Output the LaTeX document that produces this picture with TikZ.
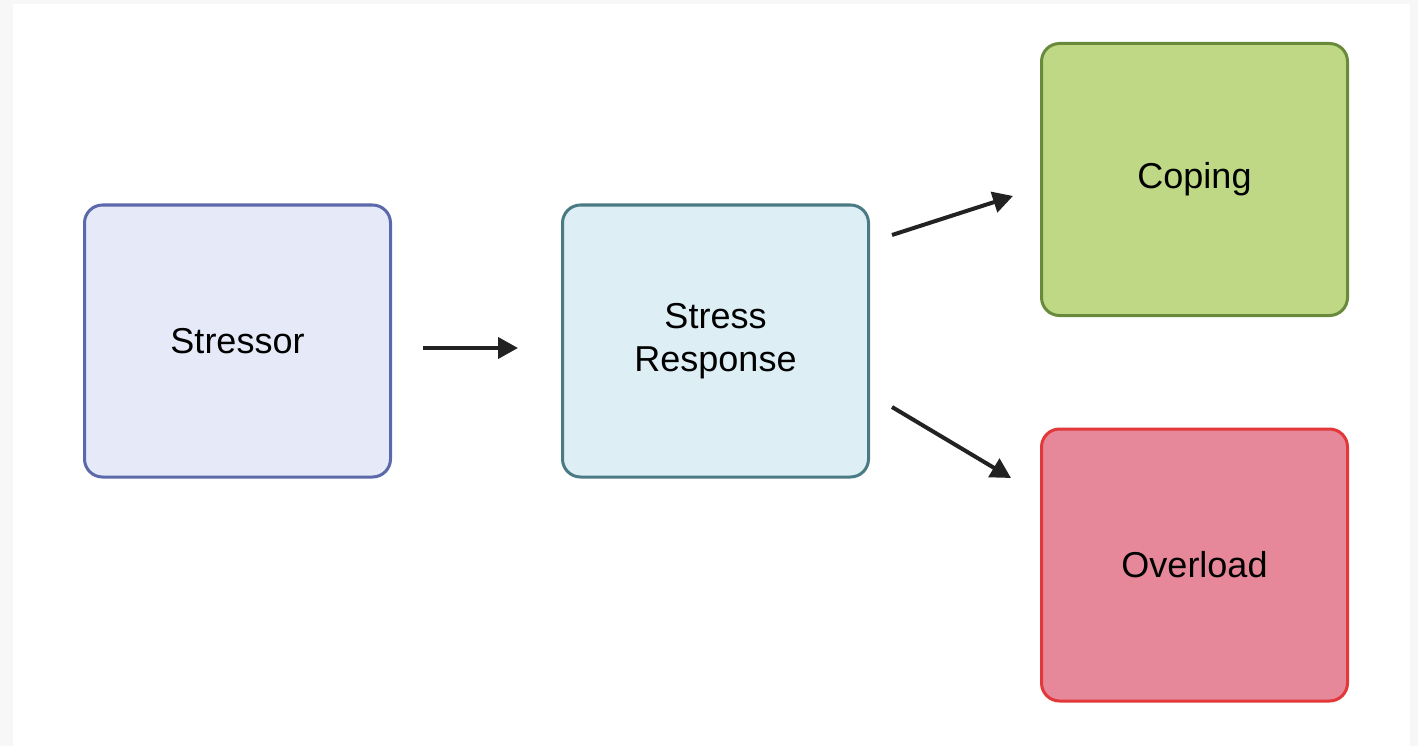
\documentclass[tikz,border=0pt]{standalone}
\usepackage{fontspec}
\setmainfont{Liberation Sans}
\usetikzlibrary{arrows.meta}
\definecolor{bgframe}{HTML}{F7F7F7}
\definecolor{sfill}{HTML}{E6EAF8}
\definecolor{sdraw}{HTML}{5B68A9}
\definecolor{rfill}{HTML}{DDEEF5}
\definecolor{rdraw}{HTML}{4A7B85}
\definecolor{cfill}{HTML}{BED886}
\definecolor{cdraw}{HTML}{6A8A3B}
\definecolor{ofill}{HTML}{E68899}
\definecolor{odraw}{HTML}{E2383A}
\definecolor{arr}{HTML}{222222}
\begin{document}
\begin{tikzpicture}[x=1pt,y=-1pt,
  box/.style={rounded corners=18pt, line width=3pt, minimum width=306pt, minimum height=272pt,
    align=center, font=\fontsize{36}{43}\selectfont, inner sep=0pt},
  link/.style={draw=arr, line width=4pt, -{Triangle[length=20pt,width=21pt]}, shorten >=0pt}
]
\fill[bgframe] (0,0) rectangle (1418,746);
\fill[white] (13,4) rectangle (1410,746);
\useasboundingbox (0,0) rectangle (1418,746);
\node[box, fill=sfill, draw=sdraw] (stressor) at (237.5,341) {Stressor};
\node[box, fill=rfill, draw=rdraw] (resp) at (715.5,341) {Stress\\Response};
\node[box, fill=cfill, draw=cdraw] (coping) at (1194.5,179.5) {Coping};
\node[box, fill=ofill, draw=odraw] (over) at (1194.5,565) {Overload};
\coordinate (a1s) at (423,348); \coordinate (a1e) at (518,348);
\coordinate (a2s) at (892,235); \coordinate (a2e) at (1013,196);
\coordinate (a3s) at (892,407); \coordinate (a3e) at (1011,478);
\draw[link] (a1s) -- (a1e);
\draw[link] (a2s) -- (a2e);
\draw[link] (a3s) -- (a3e);
\end{tikzpicture}
\end{document}
